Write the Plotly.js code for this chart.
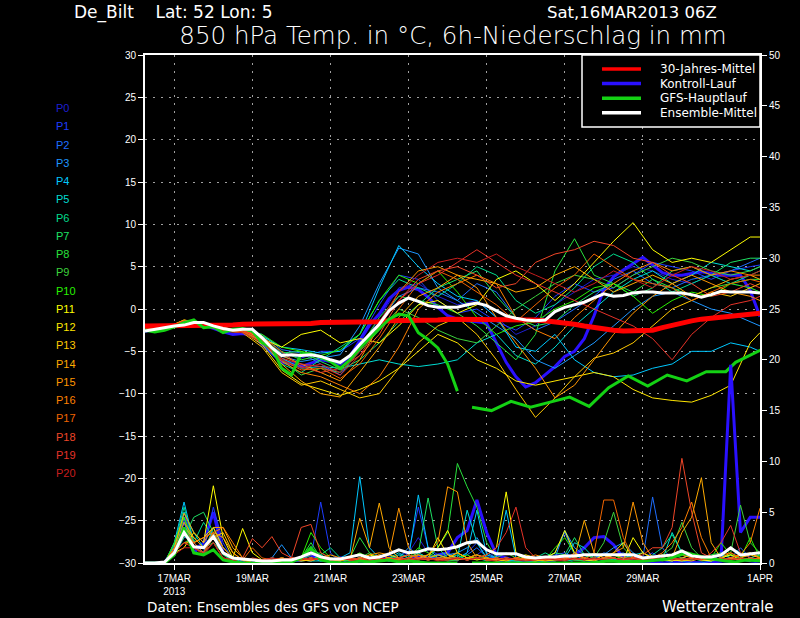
<!DOCTYPE html>
<html><head><meta charset="utf-8">
<script src="https://cdn.plot.ly/plotly-3.0.1.min.js"></script>
<style>html,body{margin:0;padding:0;background:#000;}#chart{width:800px;height:618px;}</style>
</head><body><div id="chart"></div>
<script>
// ---------- time axis (hours after 16MAR2013 06Z) ----------
const hours6 = []; for (let h = 0; h <= 378; h += 6) hours6.push(h);
const hoursMem = []; for (let h = 0; h <= 372; h += 12) hoursMem.push(h); hoursMem.push(378);
const gfsHours1 = hours6.slice(0, 33);
const gfsHours2 = [201,213,225,237,249,261,273,285,297,309,321,333,345,357,363,369,381];
const tickHours = [18,66,114,162,210,258,306,378];
const tickLabels = ['17MAR<br>2013','19MAR','21MAR','23MAR','25MAR','27MAR','29MAR','1APR'];

// ---------- main series (6-hourly) ----------
const climTemp = [-2.0,-2.0,-2.0,-2.0,-2.0,-1.9,-1.9,-1.9,
 -1.9,-1.9,-1.8,-1.8,-1.8,-1.8,-1.8,-1.7,
 -1.7,-1.7,-1.6,-1.6,-1.6,-1.6,-1.5,-1.5,
 -1.5,-1.4,-1.4,-1.4,-1.3,-1.3,-1.3,-1.2,
 -1.2,-1.2,-1.2,-1.2,-1.2,-1.2,-1.3,-1.3,
 -1.3,-1.4,-1.5,-1.7,-1.8,-2.0,-2.2,-2.4,
 -2.5,-2.6,-2.6,-2.6,-2.5,-2.2,-1.9,-1.6,
 -1.4,-1.2,-1.1,-1.0,-0.9,-0.8,-0.6,-0.5];
const meanTemp = [-2.6,-2.4,-2.2,-2.0,-1.9,-1.6,-1.6,-2.0,
 -2.3,-2.5,-2.4,-2.4,-3.4,-4.6,-5.5,-5.4,
 -5.5,-5.4,-5.6,-6.0,-6.3,-5.5,-4.2,-3.0,
 -1.8,-0.2,0.7,1.3,0.9,0.4,0.2,0.2,
 0.2,0.5,0.7,0.4,-0.2,-0.8,-1.1,-1.3,
 -1.4,-1.3,-0.3,0.2,0.5,0.8,1.3,1.8,
 1.5,1.6,1.9,2.0,2.0,1.9,1.9,1.9,
 1.7,1.4,1.7,2.1,2.0,2.0,2.0,1.9];
const ctrlTemp = [-2.6,-2.5,-2.3,-2.0,-1.7,-1.5,-1.9,-2.3,
 -2.7,-3.0,-2.9,-3.1,-4.2,-5.3,-6.3,-6.5,
 -6.8,-6.4,-6.0,-6.2,-6.5,-5.6,-3.8,-1.9,
 -0.6,1.2,2.2,2.6,2.3,1.4,0.2,-0.8,
 -1.2,-1.4,-1.5,-1.7,-4.0,-6.3,-8.0,-9.2,
 -8.7,-7.8,-6.8,-5.6,-5.0,-3.5,-0.8,2.3,
 3.8,4.6,5.3,6.1,5.2,4.3,4.0,4.0,
 4.2,4.4,4.2,4.0,4.0,4.0,2.2,-0.9];
const meanPrecip = [0,0,0.1,1.0,3.0,1.6,1.5,2.6,
 1.0,0.5,0.4,0.3,0.2,0.2,0.3,0.3,
 0.6,1.0,0.6,0.4,0.4,0.6,0.8,0.5,
 0.6,0.9,1.3,1.0,1.1,1.4,1.3,1.4,
 1.6,2.0,2.1,1.3,0.9,0.9,0.9,0.6,
 0.5,0.6,0.6,0.7,0.7,0.8,0.8,0.8,
 0.8,0.8,0.8,0.5,0.6,0.7,0.8,1.2,
 0.7,0.6,0.6,0.8,1.5,0.8,0.9,1.0];
const ctrlPrecip = [0,0,0,1.5,4.5,1.0,2.0,5.0,
 1.0,0.2,0,0,0,0,0,0.2,
 0.5,0.8,0.3,0.2,0.5,0.3,0.2,0.1,
 0.3,0.5,0.2,0.3,0.6,0.5,0.8,1.0,
 2.5,3.2,6.2,3.0,0.8,0.5,0.2,0.1,
 0,0.1,0.3,0.5,0.8,1.5,2.5,2.6,
 1.8,0.5,0.1,0,0,0,0,0.2,
 0.1,0,0,0.2,19.5,3.0,4.5,4.5];
const gfsTemp1 = [-2.5,-2.7,-2.5,-2.1,-1.6,-1.3,-2.2,-2.1,
 -2.8,-2.4,-2.3,-2.6,-4.0,-4.5,-7.0,-7.8,
 -5.3,-5.3,-5.7,-6.2,-7.0,-6.0,-4.6,-3.4,
 -2.3,-1.2,-0.6,-0.8,-2.8,-3.6,-4.6,-6.5,-9.7];
const gfsTemp2 = [-11.6,-12.0,-10.9,-11.6,-11.0,-10.4,-11.5,-9.3,-7.9,-9.1,-7.8,-8.5,-7.4,-7.4,-6.3,-5.7,-4.6];
const gfsPrecip1 = [0,0,0,0.8,3.5,1.0,0.8,1.3,
 0.3,0.1,0,0,0,0,0,0.1,
 0.5,1.5,0.3,0.1,0,0,0.2,0.1,
 0.2,0.3,0.1,0.2,0.1,0,0,0,0];
const gfsPrecip2 = [0,0,0,0,0,0,0,0.2,0.1,0.2,0.4,1.0,0.5,0.2,0.1,0.3,0.2];

// ---------- ensemble members: 850 hPa temperature (12-hourly) ----------
const tP0 = [-2.6,-2.3,-1.5,-1.9,-2.5,-2.8, -3.8,-6.0,-6.5,-6.8,-7.5,-5.0, -1.0,2.5,3.0,1.5,0.5,1.0, -1.0,-3.0,-2.0,0.5,2.0,3.5, 4.0,5.0,4.5,3.5,3.0,4.0, 3.0,2.5,2.0];
const tP1 = [-2.5,-2.2,-1.6,-1.7,-2.3,-2.5, -3.5,-5.2,-5.8,-5.0,-5.0,-3.5, 0.5,4.0,3.5,1.0,-0.5,0.0, -1.5,-2.5,-1.0,1.5,3.0,2.0, 2.5,4.0,5.5,5.0,4.5,3.5, 4.5,5.0,5.2];
const tP2 = [-2.4,-2.1,-1.7,-2.0,-2.6,-2.4, -3.0,-4.8,-5.2,-6.5,-7.8,-4.8, -1.5,1.5,2.5,2.0,1.0,3.0, 2.0,-1.0,-2.5,-1.5,0.0,1.5, 3.5,4.5,3.0,2.5,3.5,4.0, 4.5,5.5,6.0];
const tP3 = [-2.6,-2.4,-1.6,-1.8,-2.2,-2.6, -3.6,-5.6,-6.2,-5.8,-5.4,-2.0, 3.0,7.2,6.5,2.5,1.0,-0.5, -2.0,-3.5,-6.0,-7.0,-5.5,-4.0, -2.0,0.0,1.5,2.0,1.0,0.0, -0.5,-1.5,-2.0];
const tP4 = [-2.7,-2.3,-1.5,-1.7,-2.4,-2.7, -3.2,-4.5,-4.8,-5.2,-5.0,-3.0, 2.5,7.5,5.0,3.0,1.5,1.0, -1.0,-4.5,-5.0,-3.0,-6.0,-7.5, -8.0,-7.8,-7.0,-6.5,-5.0,-5.0, -4.0,-4.5,-5.0];
const tP5 = [-2.5,-2.2,-1.7,-1.9,-2.3,-2.5, -3.3,-5.8,-7.0,-6.8,-7.0,-6.5, -6.0,-6.5,-6.8,-6.5,-6.0,-4.0, -3.0,-5.5,-6.5,-4.5,-2.0,0.0, 2.0,3.5,4.5,3.0,4.0,5.5, 5.0,4.5,5.0];
const tP6 = [-2.6,-2.1,-1.6,-1.8,-2.5,-2.7, -4.0,-6.5,-7.5,-6.0,-4.5,-3.0, 1.0,3.5,2.5,1.5,3.0,5.0, 4.0,1.0,-0.5,0.5,2.5,5.0, 6.5,5.5,3.5,2.0,3.0,4.0, 3.0,4.0,4.5];
const tP7 = [-2.5,-2.3,-1.4,-1.7,-2.3,-2.4, -3.6,-5.2,-5.0,-6.2,-7.2,-6.0, -4.0,-1.5,0.5,2.5,3.5,4.5, 1.5,-1.0,-2.0,-1.5,0.5,2.0, 3.0,1.5,2.5,4.5,5.0,4.0, 5.5,6.0,6.0];
const tP8 = [-2.6,-2.2,-1.5,-1.8,-2.4,-2.6, -3.2,-5.0,-6.0,-5.5,-6.5,-4.5, -1.0,1.5,1.0,0.5,-0.5,-2.0, -4.0,-6.0,-3.0,4.5,8.3,4.0, 3.0,2.0,3.5,2.5,1.5,2.5, 3.0,3.5,3.5];
const tP9 = [-2.4,-2.2,-1.6,-1.9,-2.5,-2.6, -3.4,-6.0,-7.8,-7.0,-7.5,-5.0, -2.5,0.0,-1.0,-2.5,-3.5,-4.0, -2.0,0.0,1.5,3.0,4.0,3.5, 2.5,4.0,5.0,6.0,5.5,4.5, 4.0,4.5,5.0];
const tP10 = [-2.5,-2.3,-1.7,-1.8,-2.3,-2.5, -3.0,-4.5,-5.0,-5.5,-4.8,-3.0, 1.0,4.0,3.0,4.5,2.0,-1.0, -3.0,-2.0,-1.5,0.0,1.0,2.5, 3.0,1.5,-0.5,1.0,2.0,1.5, 3.0,2.5,2.0];
const tP11 = [-2.6,-2.4,-1.4,-1.6,-2.2,-2.6, -3.5,-4.5,-3.0,-2.5,-4.0,-3.5, -4.0,-2.0,0.5,1.0,-0.5,0.5, 3.5,4.5,3.0,1.0,3.0,5.5, 8.0,10.2,7.0,5.5,6.0,5.5, 7.0,8.5,8.5];
const tP12 = [-2.5,-2.3,-1.3,-1.8,-2.4,-2.7, -4.2,-7.2,-8.8,-9.5,-10.2,-9.5, -8.5,-7.0,-5.0,-3.0,-4.0,-6.0, -7.0,-8.5,-9.0,-8.5,-8.0,-7.5, -8.0,-9.5,-10.5,-10.8,-11.0,-10.2, -9.0,-4.0,-2.8];
const tP13 = [-2.4,-2.1,-1.5,-1.9,-2.6,-2.8, -4.5,-7.5,-9.0,-8.5,-9.5,-10.5, -10.0,-7.0,-4.0,-2.0,-1.0,-3.0, -6.0,-9.5,-12.8,-10.5,-8.0,-5.8, -5.2,-4.0,-2.0,0.0,1.0,2.0, 1.5,2.5,3.0];
const tP14 = [-2.6,-2.3,-1.3,-1.7,-2.3,-2.6, -3.8,-6.5,-8.5,-10.0,-10.4,-7.5, -4.5,-1.0,1.5,2.5,4.0,3.5, 3.0,2.0,2.5,4.0,5.0,3.5, 2.0,3.0,4.0,3.0,1.5,2.5, 3.5,4.0,3.5];
const tP15 = [-2.5,-2.2,-1.4,-1.8,-2.5,-2.6, -3.2,-5.5,-6.5,-7.5,-8.5,-6.0, -2.0,2.0,4.5,5.0,4.0,2.5, -1.0,-4.0,-7.0,-10.5,-9.0,-6.0, -3.0,-0.5,1.5,3.0,4.0,3.0, 2.0,1.5,1.0];
const tP16 = [-2.6,-2.4,-1.5,-1.8,-2.2,-2.5, -3.6,-6.2,-7.5,-8.0,-9.0,-10.0, -8.0,-4.5,0.0,2.0,3.0,4.0, 3.0,-1.0,-2.5,-3.5,-1.0,1.0, 3.0,4.5,5.5,4.5,5.0,4.0, 4.5,4.0,4.0];
const tP17 = [-2.5,-2.3,-1.6,-1.9,-2.4,-2.7, -3.9,-6.0,-7.2,-7.0,-8.2,-6.5, -3.5,0.0,3.0,4.5,3.5,2.0, 0.5,-1.5,0.5,2.5,4.0,6.5, 5.0,3.5,3.0,2.5,1.0,2.0, 3.0,3.5,3.2];
const tP18 = [-2.4,-2.2,-1.5,-1.7,-2.3,-2.5, -3.3,-5.0,-6.8,-7.5,-7.0,-5.5, -3.0,1.0,3.5,4.5,5.0,4.0, 2.5,3.0,5.5,6.5,7.0,8.0, 7.5,6.0,5.5,4.0,3.0,1.5, 2.0,3.0,2.5];
const tP19 = [-2.6,-2.3,-1.4,-1.8,-2.4,-2.6, -3.6,-5.8,-6.5,-6.8,-7.8,-5.5, -2.0,1.0,3.0,4.0,5.5,7.0, 5.5,4.0,3.0,2.0,1.0,0.0, -1.0,-2.0,-3.5,-6.0,-3.0,-1.0, 0.5,1.0,1.5];
const tP20 = [-2.5,-2.2,-1.6,-1.9,-2.6,-2.8, -4.0,-6.0,-7.0,-6.5,-7.5,-5.0, -1.5,2.0,4.0,5.5,6.0,5.5, 6.5,5.0,4.0,3.0,2.0,3.0, 4.5,3.5,2.5,4.0,5.0,4.5, 3.5,4.0,4.5];

// ---------- ensemble members: 6h precipitation (6-hourly) ----------
const pP0 = [0,0,0,1.0,3.5,1.5,2.0,2.5, 1.0,0.2,0,0,0,0.3,0.5,0.2, 0.5,1.0,0.8,0.3,0,0,0.2,0.5, 0.3,0.2,0.8,1.0,2.5,1.0,0.5,0.2, 0.3,0.5,0.8,1.5,0.3,0,0,0, 0,0,0.2,0.5,0,0,0.3,0.8, 0.5,0.2,0,0,0.3,0.1,0,0, 0,0.2,0.5,0,0,0.3,0.1,0];
const pP1 = [0,0,0,1.5,5.0,2.0,1.0,5.5, 2.0,0.3,0,0,0,0,0.3,0.1, 0.2,0.5,6.0,1.0,0,0,0.2,0.3, 0.5,0.3,0.2,1.0,5.5,1.5,0.8,0.5, 0.2,1.0,2.0,0.5,0.2,0,0,0.3, 0.5,0.2,0.8,1.0,0.5,0.3,0.2,0.5, 0.3,0.2,0,0.5,1.0,0.3,0,0, 0,0,0.2,0.5,0,0.2,0.5,0.3];
const pP2 = [0,0,0,0.8,2.5,2.5,1.5,3.0, 1.5,0.5,0,0,0.2,0.5,0.3,0.2, 0.3,0.2,0.5,0.2,0,0.3,0.5,0.2, 0.4,0.2,0.3,0.5,1.0,0.5,0.8,1.0, 0.5,0.8,1.5,0.6,0.5,0.2,0,0, 0.3,0.5,1.0,3.0,0.8,0.3,0.5,1.0, 0.8,1.0,0.5,0.5,6.5,1.5,0.3,0.2, 0,0,0.2,0.3,0.5,1.5,0.5,0.8];
const pP3 = [0,0,0,1.2,4.0,1.5,1.0,2.0, 1.0,0.5,0.2,0,0,0.5,1.8,0.5, 0.2,0.3,0.5,0.2,0.3,0.5,0.8,0.5, 0.2,0.3,0.5,1.5,0.8,0.5,0.5,0.8, 1.0,1.5,2.5,1.0,0.5,0.2,0.3,0.5, 0.5,0.3,0.5,3.2,1.5,0.8,0.5,0.8, 1.5,2.0,1.0,0.5,0.3,0.5,0.2,0.5, 0.3,0.5,0.3,0.8,0.5,0.3,0.2,0.5];
const pP4 = [0,0,0,2.0,6.0,2.0,1.0,3.5, 1.5,0.5,0,0,0,0.2,0.3,0.2, 0.3,0.5,0.2,0.3,0.5,1.0,8.5,1.5, 0.5,0.2,0.3,0.5,6.7,1.5,0.5,0.3, 0.5,1.0,5.2,0.8,0.5,5.2,0.5,0.2, 0.2,0.3,0.5,0.8,0.3,0.2,0.3,0.5, 0.8,0.5,0.3,0.2,0.5,0.3,0.2,0.5, 0.8,0.5,0.3,0.5,0.8,0.5,0.3,0.5];
const pP5 = [0,0,0,1.5,5.0,3.0,1.5,3.0, 1.0,0.2,0,0,0,0,0.2,0.5, 0.3,0.2,0.2,0.5,0.3,0.2,0.5,0.3, 0.2,0.5,1.0,0.5,0.3,0.5,0.8,0.5, 0.5,5.2,2.0,0.5,0.3,0.2,0.2,0, 0,0.2,0.3,0.5,2.0,1.5,0.5,0.2, 0.3,0.5,0.8,1.0,0.5,0.3,3.0,1.0, 0.5,0.3,0.2,0.5,1.5,1.0,0.5,0.3];
const pP6 = [0,0,0,1.8,5.5,2.0,4.0,2.5, 1.0,0.3,0,0,0,0,0,0.3, 0.5,0.3,0.8,1.5,0.5,0.3,0.2,0.5, 0.3,0.5,0.8,0.5,1.0,0.5,0.3,0.5, 0.8,0.3,0.5,0.2,0.3,0.5,0.2,0.3, 0.5,1.0,0.5,0.2,0.3,0.5,1.0,0.5, 0.3,0.2,0.5,0.3,0.8,1.5,2.8,1.0, 0.5,0.2,0.3,0.5,0.8,0.5,1.0,0.5];
const pP7 = [0,0,0,1.0,2.5,4.5,5.0,3.0, 1.5,0.5,0,0,0,0,0.2,0.3, 0.5,1.5,0.8,0.3,0.2,0.3,0.5,0.2, 0.5,0.3,0.2,0.5,1.0,6.4,1.5,0.5, 0.3,0.5,0.8,0.5,0.2,0.3,0.5,0.3, 0.2,0.5,1.0,0.8,2.5,0.8,0.5,0.3, 0.5,0.3,0.2,0.5,0.3,0.5,0.8,0.5, 0.3,0.5,0.8,1.0,0.5,0.3,0.5,0.8];
const pP8 = [0,0,0,1.5,4.5,2.0,1.0,2.5, 0.8,0.2,0,0,0,0,0,0.2, 0.5,2.0,0.5,0.3,0.2,0.5,2.5,1.0, 0.3,0.5,0.5,0.2,0.3,0.5,1.5,3.0, 9.8,7.5,5.5,2.0,0.5,0.2,0.5,0.5, 0.3,0.2,0.5,0.3,0.5,0.8,0.5,0.3, 0.5,0.3,0.2,0.3,0.5,0.3,0.5,0.2, 0.3,0.5,0.2,0.5,0.8,0.5,0.3,0.5];
const pP9 = [0,0,0,1.2,2.0,2.5,1.5,2.0, 1.0,0.3,0,0,0.2,0.5,0.3,0.2, 0.3,0.8,1.0,0.5,0.3,0.2,0.5,1.0, 0.5,0.3,0.5,0.8,0.5,0.3,0.5,0.2, 0.3,0.5,0.8,0.3,0.5,1.0,0.5,0.3, 0.5,0.3,0.2,0.5,0.3,0.2,0.5,2.0, 5.0,1.5,0.5,0.3,0.5,0.8,1.5,4.0, 1.5,0.5,0.3,0.5,1.0,5.7,2.0,1.0];
const pP10 = [0,0,0,2.0,4.5,1.5,1.0,2.0, 0.5,0.2,0,0,0,0.2,0.5,0.3, 0.5,3.0,1.5,0.5,0.3,0.5,1.0,0.5, 0.3,0.5,0.3,0.5,1.5,1.0,0.5,0.3, 0.5,0.8,0.3,0.5,0.2,0.3,0.5,0.8, 0.5,0.3,1.5,2.5,1.0,0.5,0.3,0.5, 0.8,0.3,0.5,0.3,0.5,0.2,0.5,0.3, 0.5,0.3,0.5,2.0,0.8,0.5,2.5,0.5];
const pP11 = [0,0,0,1.0,1.5,3.0,2.0,7.6, 2.5,0.5,3.4,1.0,0.3,0,0,0.3, 0.2,0.3,0.5,0.3,0.2,0.5,0.3,0.8, 0.5,0.3,0.5,0.3,0.5,0.8,1.5,3.2, 1.0,0.5,0.5,0.8,1.5,7.0,1.0,0.3, 0.2,0.5,1.0,3.2,1.0,0.5,0.3,0.8, 0.5,0.3,2.5,1.0,0.5,0.3,0.2,0.5, 0.8,0.3,0.2,0.5,0.8,0.3,0.5,0.3];
const pP12 = [0,0,0,1.5,3.0,2.0,2.5,3.5, 1.5,0.5,0.3,0,0,0.2,0.3,0.2, 0.3,0.5,0.3,0.2,0.5,0.3,0.2,0.5, 0.8,0.5,0.3,0.5,0.8,0.5,2.5,0.8, 0.5,0.3,0.5,0.3,0.2,0.3,0.5,0.3, 0.2,0.3,0.5,0.3,0.5,0.3,0.2,0.5, 1.0,2.0,0.5,0.3,0.2,0.5,0.3,0.2, 0.5,0.3,0.5,0.3,0.5,0.3,0.2,0.5];
const pP13 = [0,0,0,1.0,3.5,2.5,1.5,2.5, 3.0,1.0,0.3,0,0,0,0.2,0.5, 0.3,0.2,0.5,0.3,0.5,0.3,0.5,0.3, 0.5,0.8,0.5,0.3,0.5,0.3,0.5,0.5, 1.0,0.5,0.3,0.5,0.3,0.2,0.5,0.3, 0.5,0.2,0.3,0.5,0.8,0.5,0.3,0.8, 0.5,0.3,0.5,1.0,0.5,0.8,0.5,0.3, 0.2,0.5,0.3,0.5,0.3,0.5,0.8,0.5];
const pP14 = [0,0,0,1.5,4.9,3.0,2.0,3.5, 3.5,1.5,0.5,0,0,0.2,0.5,0.3, 0.5,0.3,0.5,0.8,0.5,0.3,4.4,1.5, 5.9,1.5,0.5,0.8,0.5,0.5,0.8,0.5, 1.0,0.5,0.8,0.5,0.3,0.5,0.3,0.5, 0.3,0.2,0.5,0.8,0.5,4.2,1.0,0.5, 0.8,0.5,0.5,0.3,0.5,0.3,0.5,3.0, 4.5,8.4,2.0,0.5,1.0,0.5,1.0,0.5];
const pP15 = [0,0,0,1.2,4.0,2.5,1.5,3.0, 2.5,1.0,0.3,0,0,0,0.3,0.5, 0.3,0.5,0.3,0.2,0.5,0.3,0.5,0.8, 1.0,0.8,5.4,1.5,0.5,0.8,2.0,7.5, 7.0,2.0,0.5,0.3,0.5,0.3,0.5,0.8, 0.5,0.3,0.5,0.3,1.0,0.5,0.3,0.5, 1.0,1.5,6.0,2.0,0.5,0.3,0.5,0.8, 0.5,0.3,0.5,0.3,0.5,0.8,1.0,0.5];
const pP16 = [0,0,0,1.0,2.0,2.0,2.5,3.0, 3.5,2.0,0.5,0,0,0.2,0.5,0.3, 0.5,0.3,0.5,0.3,0.2,0.5,0.3,0.5, 0.8,0.5,0.3,0.5,0.8,0.5,0.3,0.5, 0.3,0.5,0.8,0.5,0.3,0.5,0.3,0.5, 0.8,0.5,0.3,0.5,0.8,0.5,0.3,0.5, 0.5,0.3,0.5,0.3,0.5,1.0,2.0,3.5, 6.0,2.5,0.5,0.3,0.5,0.8,2.0,5.4];
const pP17 = [0,0,0,1.5,3.0,1.5,1.0,3.0, 1.5,0.5,0.3,1.5,0.5,0.3,0.5,0.3, 0.5,0.3,0.5,0.3,0.5,0.3,0.2,0.5, 0.3,0.5,0.3,0.5,0.3,0.5,0.3,0.5, 0.5,0.3,0.5,0.3,0.5,0.3,0.5,0.3, 0.5,0.3,0.5,0.3,0.5,0.3,1.0,6.2, 6.2,2.5,0.5,0.3,0.5,0.3,0.5,0.3, 0.5,0.3,0.5,0.8,1.0,0.5,0.3,0.5];
const pP18 = [0,0,0,1.2,3.5,2.0,1.0,2.5, 1.0,0.5,0.5,2.4,1.5,2.6,1.0,0.5, 3.5,3.8,1.0,0.5,0.3,0.5,0.3,0.2, 0.5,0.3,0.5,0.8,0.5,0.3,0.5,0.3, 0.5,0.3,0.5,0.3,0.5,0.3,0.5,0.3, 0.3,0.5,0.3,0.5,0.3,0.5,0.3,0.5, 0.5,0.3,0.5,0.8,1.5,1.5,3.5,10.3, 5.0,1.0,0.5,0.3,0.5,0.3,0.5,0.3];
const pP19 = [0,0,0,1.0,2.0,1.5,1.0,2.0, 0.5,0.3,0,0.5,0.3,0.5,0.3,0.5, 0.5,0.3,0.5,0.3,0.5,0.3,0.5,0.3, 0.5,0.3,0.5,0.3,0.5,0.3,0.5,0.3, 0.5,0.3,0.5,0.8,1.5,3.0,5.5,1.5, 0.5,0.3,0.5,0.3,0.5,0.3,0.5,0.3, 0.5,0.3,0.5,0.3,0.5,0.3,0.5,0.3, 0.5,0.3,1.0,2.0,3.7,1.0,0.5,0.3];
const pP20 = [0,0,0,0.8,1.5,1.5,0.8,2.0, 0.5,0.3,0,0,0.2,0.5,0.3,0.2, 0.3,0.5,0.3,0.2,0.5,0.3,0.2,0.3, 0.5,0.3,0.2,0.5,0.3,0.5,0.2,0.3, 0.5,0.3,0.5,0.3,0.2,0.5,0.3,0.2, 0.3,0.5,0.3,0.2,0.5,0.3,0.5,0.3, 0.2,0.5,0.3,0.5,0.3,0.5,0.3,0.5, 0.3,0.5,0.3,0.5,0.3,0.5,0.3,0.2];

const memberNames = ['P0','P1','P2','P3','P4','P5','P6','P7','P8','P9','P10','P11','P12','P13','P14','P15','P16','P17','P18','P19','P20'];
const memberColors = ['#1e1ed2','#1e3cff','#1e6eff','#1e96ff','#00c8ff','#00dcd2','#00dc8c','#1ee164','#28e13c','#3cd23c','#28f000','#ffff00','#ffe600','#ffc800','#ffaa00','#ff9600','#ff8000','#f06400','#f04628','#e63228','#c81e1e'];
const memberTemp = [tP0,tP1,tP2,tP3,tP4,tP5,tP6,tP7,tP8,tP9,tP10,tP11,tP12,tP13,tP14,tP15,tP16,tP17,tP18,tP19,tP20];
const memberPrecip = [pP0,pP1,pP2,pP3,pP4,pP5,pP6,pP7,pP8,pP9,pP10,pP11,pP12,pP13,pP14,pP15,pP16,pP17,pP18,pP19,pP20];

const legendNames = ['30-Jahres-Mittel','Kontroll-Lauf','GFS-Hauptlauf','Ensemble-Mittel'];
const legendColors = ['#ff0000','#2a10ff','#14d214','#ffffff'];

// ---------- build traces ----------
const traces = [];
// control run first: it sits beneath the member spaghetti where they overlap
traces.push({x: hours6, y: ctrlPrecip, yaxis: 'y2', mode: 'lines', line: {color: legendColors[1], width: 3}, name: legendNames[1]});
traces.push({x: hours6, y: ctrlTemp, mode: 'lines', line: {color: legendColors[1], width: 3}, name: legendNames[1]});
memberPrecip.forEach((p, i) => traces.push({x: hours6.slice(0, p.length), y: p, yaxis: 'y2', mode: 'lines',
  line: {color: memberColors[i], width: 1}, hoverinfo: 'skip', name: memberNames[i]}));
memberTemp.forEach((t, i) => traces.push({x: hoursMem.slice(0, t.length), y: t, mode: 'lines',
  line: {color: memberColors[i], width: 1}, hoverinfo: 'skip', name: memberNames[i]}));
traces.push({x: hours6, y: climTemp, mode: 'lines', line: {color: legendColors[0], width: 5}, name: legendNames[0]});
traces.push({x: gfsHours1, y: gfsPrecip1, yaxis: 'y2', mode: 'lines', line: {color: legendColors[2], width: 3}, name: legendNames[2]});
traces.push({x: gfsHours2, y: gfsPrecip2, yaxis: 'y2', mode: 'lines', line: {color: legendColors[2], width: 3}, name: legendNames[2]});
traces.push({x: gfsHours1, y: gfsTemp1, mode: 'lines', line: {color: legendColors[2], width: 3}, name: legendNames[2]});
traces.push({x: gfsHours2, y: gfsTemp2, mode: 'lines', line: {color: legendColors[2], width: 3}, name: legendNames[2]});
traces.push({x: hours6, y: meanPrecip, yaxis: 'y2', mode: 'lines', line: {color: legendColors[3], width: 3}, name: legendNames[3]});
traces.push({x: hours6, y: meanTemp, mode: 'lines', line: {color: legendColors[3], width: 3}, name: legendNames[3]});

// ---------- layout helpers (pixel -> paper) ----------
const PL = 145, PR = 760, PT = 55, PB = 563;
const X = px => (px - PL) / (PR - PL);
const Y = py => (PB - py) / (PB - PT);
const FONT = 'Liberation Sans, DejaVu Sans, Arial, sans-serif';
const WIDE = 'DejaVu Sans, Liberation Sans, sans-serif';

const annotations = [];
const shapes = [];
function txt(text, px, py, size, color, anchor, family) {
  annotations.push({text: text, xref: 'paper', yref: 'paper', x: X(px), y: Y(py), xanchor: anchor || 'left', yanchor: 'middle',
    showarrow: false, font: {family: family || WIDE, size: size, color: color || '#fff'}});
}
txt('De_Bilt\u00a0\u00a0\u00a0 Lat: 52 Lon: 5', 72, 13, 17);
txt('Sat,16MAR2013 06Z', 545, 13, 16.5);
txt('Daten: Ensembles des GFS von NCEP', 145, 607, 13.5);
txt('Wetterzentrale', 776, 607, 15, '#fff', 'right');
memberNames.forEach((n, i) => txt(n, 54, 108 + i * 18.25, 11, memberColors[i], 'left', FONT));

// legend box
shapes.push({type: 'rect', xref: 'paper', yref: 'paper', x0: X(582), x1: X(760), y0: Y(127), y1: Y(55),
  fillcolor: '#000', line: {color: '#fff', width: 1.5}, layer: 'above'});
legendNames.forEach((n, i) => {
  const py = 69 + i * 14.6;
  shapes.push({type: 'line', xref: 'paper', yref: 'paper', x0: X(602), x1: X(641), y0: Y(py), y1: Y(py),
    line: {color: legendColors[i], width: 3.5}, layer: 'above'});
  txt(n, 658, py, 12);
});

const axisCommon = {showline: true, linecolor: '#fff', linewidth: 2, ticks: 'outside', ticklen: 5, tickcolor: '#fff',
  tickwidth: 1, zeroline: false, tickfont: {family: FONT, size: 10, color: '#fff'}, fixedrange: true};

const layout = {
  width: 800, height: 618,
  paper_bgcolor: '#000', plot_bgcolor: '#000',
  margin: {l: PL, r: 800 - PR, t: PT, b: 618 - PB, pad: 0},
  showlegend: false,
  font: {family: FONT, color: '#fff', size: 11},
  title: {text: '850 hPa Temp. in °C, 6h-Niederschlag in mm', x: 453 / 800, xanchor: 'center', xref: 'container',
    y: 1 - 35 / 618, yanchor: 'middle', yref: 'container', font: {family: WIDE, size: 24.5, color: '#fff', weight: 300}},
  xaxis: Object.assign({}, axisCommon, {range: [0, 378], tickmode: 'array', tickvals: tickHours, ticktext: tickLabels,
    showgrid: true, gridcolor: '#a0a0a0', gridwidth: 1, griddash: '2px,6px', mirror: true}),
  yaxis: Object.assign({}, axisCommon, {range: [-30, 30], dtick: 5, tick0: 0, showgrid: true, gridcolor: '#a0a0a0',
    gridwidth: 1, griddash: '2px,6px'}),
  yaxis2: Object.assign({}, axisCommon, {range: [0, 50], dtick: 5, tick0: 0, overlaying: 'y', side: 'right', showgrid: false}),
  annotations: annotations,
  shapes: shapes
};

Plotly.newPlot('chart', traces, layout, {displayModeBar: false, staticPlot: true});
</script>
</body></html>
